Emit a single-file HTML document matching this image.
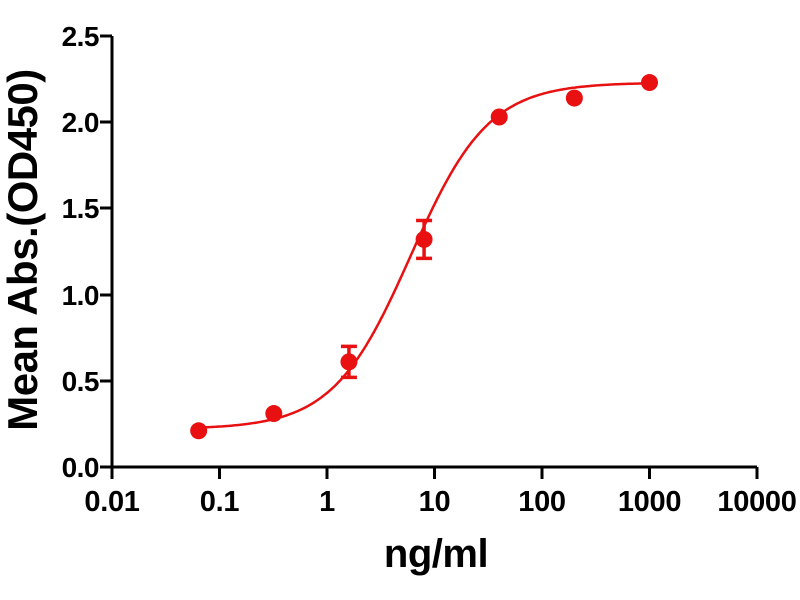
<!DOCTYPE html>
<html><head><style>body{margin:0;background:#fff}svg{display:block}text{font-family:"Liberation Sans",Arial,sans-serif;font-weight:bold}</style></head>
<body>
<svg id="s" width="800" height="600" xmlns="http://www.w3.org/2000/svg">
<g stroke="#000" stroke-width="3" fill="none">
<path d="M112,36V467H757"/>
<path d="M100,36H112M100,122H112M100,208H112M100,295H112M100,381H112M100,467H112"/>
<path d="M112,467V479M219.5,467V479M327,467V479M434.5,467V479M542,467V479M649.5,467V479M757,467V479"/>
</g>
<g font-size="28" text-anchor="end" letter-spacing="-0.5">
<text x="99" y="46">2.5</text><text x="99" y="132">2.0</text><text x="99" y="218">1.5</text><text x="99" y="305">1.0</text><text x="99" y="391">0.5</text><text x="99" y="477">0.0</text>
</g>
<g font-size="29" text-anchor="middle" letter-spacing="-0.3">
<text x="112" y="511">0.01</text><text x="219.5" y="511">0.1</text><text x="327" y="511">1</text><text x="434.5" y="511">10</text><text x="542" y="511">100</text><text x="649.5" y="511">1000</text><text x="757" y="511">10000</text>
</g>
<text x="436" y="567" font-size="40" text-anchor="middle" letter-spacing="-0.5">ng/ml</text>
<text transform="translate(37,250) rotate(-90)" font-size="42" text-anchor="middle" letter-spacing="-0.5">Mean Abs.(OD450)</text>
<g id="d"></g>
</svg>
<script>
var X=function(v){return 112+(Math.log10(v)+2)*107.5},Y=function(v){return 467-v*172.4};
function f(x){return 0.22+2.01/(1+Math.pow(6/x,1.2));}
var p="";for(var l=Math.log10(0.064);l<=3.001;l+=0.02){var x=Math.pow(10,l);p+=(p?"L":"M")+X(x).toFixed(1)+","+Y(f(x)).toFixed(1);}
var h='<path d="'+p+'" stroke="#e81010" stroke-width="2.5" fill="none"/>';
var pts=[[0.064,0.21],[0.32,0.31],[1.6,0.61,0.52,0.70],[8,1.32,1.21,1.43],[40,2.03],[200,2.14],[1000,2.23]];
pts.forEach(function(q){var cx=X(q[0]),cy=Y(q[1]);
if(q[2]){var a=Y(q[2]),b=Y(q[3]);h+='<path d="M'+cx+','+a+'V'+b+'M'+(cx-8)+','+a+'H'+(cx+8)+'M'+(cx-8)+','+b+'H'+(cx+8)+'" stroke="#e81010" stroke-width="3.5"/>';}
h+='<circle cx="'+cx+'" cy="'+cy+'" r="8.5" fill="#e81010"/>';});
document.getElementById('d').innerHTML=h;
</script>
</body></html>
